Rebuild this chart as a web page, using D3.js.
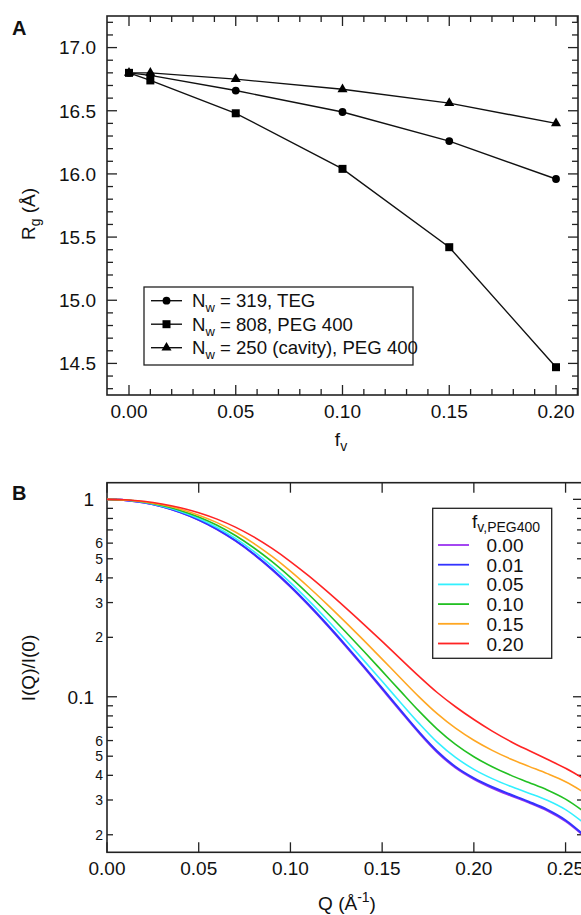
<!DOCTYPE html>
<html>
<head>
<meta charset="utf-8">
<script src="https://cdn.jsdelivr.net/npm/d3@7"></script>
<style>
  html, body { margin: 0; padding: 0; background: #fff; }
  svg { display: block; }
  text { font-family: "Liberation Sans", Arial, Helvetica, sans-serif; fill: #111; }
</style>
</head>
<body>
<svg id="chart" width="581" height="915"></svg>
<script>
// ---------- Panel A data ----------
const fvA = [0.00, 0.01, 0.05, 0.10, 0.15, 0.20];
const rgTEG = [16.80, 16.78, 16.66, 16.49, 16.26, 15.96];
const rgPEG = [16.80, 16.74, 16.48, 16.04, 15.42, 14.47];
const rgCavity = [16.80, 16.80, 16.75, 16.67, 16.56, 16.40];
const legendA = ["319, TEG", "808, PEG 400", "250 (cavity), PEG 400"];
const xTicksA = [0.00, 0.05, 0.10, 0.15, 0.20];
const yTicksA = [14.5, 15.0, 15.5, 16.0, 16.5, 17.0];

// ---------- Panel B data ----------
const qB = [0.00, 0.01, 0.02, 0.03, 0.04, 0.05, 0.06, 0.07, 0.08, 0.09, 0.10, 0.11, 0.12, 0.13,
            0.14, 0.15, 0.16, 0.17, 0.18, 0.19, 0.20, 0.21, 0.22, 0.23, 0.24, 0.25, 0.26];
const I000 = [1, 0.9907, 0.9634, 0.9190, 0.8593, 0.7868, 0.7048, 0.6166, 0.5270, 0.4404, 0.3608, 0.2905, 0.2308, 0.1813,
              0.1413, 0.1094, 0.0846, 0.0658, 0.0524, 0.0437, 0.0383, 0.0345, 0.0316, 0.0291, 0.0265, 0.0234, 0.0197];
const I001 = [1, 0.9907, 0.9634, 0.9195, 0.8603, 0.7882, 0.7064, 0.6184, 0.5289, 0.4425, 0.3629, 0.2924, 0.2324, 0.1828,
              0.1426, 0.1105, 0.0855, 0.0665, 0.0530, 0.0442, 0.0387, 0.0349, 0.0320, 0.0294, 0.0268, 0.0237, 0.0199];
const I005 = [1, 0.9913, 0.9656, 0.9238, 0.8684, 0.7993, 0.7197, 0.6338, 0.5452, 0.4588, 0.3785, 0.3068, 0.2455, 0.1944,
              0.1529, 0.1197, 0.0936, 0.0735, 0.0589, 0.0493, 0.0429, 0.0385, 0.0352, 0.0325, 0.0299, 0.0268, 0.0229];
const I010 = [1, 0.9919, 0.9690, 0.9302, 0.8786, 0.8134, 0.7384, 0.6556, 0.5685, 0.4829, 0.4021, 0.3294, 0.2664, 0.2134,
              0.1700, 0.1348, 0.1068, 0.0848, 0.0686, 0.0574, 0.0497, 0.0442, 0.0401, 0.0368, 0.0337, 0.0303, 0.0262];
const I015 = [1, 0.9930, 0.9724, 0.9379, 0.8910, 0.8317, 0.7620, 0.6829, 0.5986, 0.5138, 0.4328, 0.3587, 0.2938, 0.2387,
              0.1929, 0.1551, 0.1245, 0.1002, 0.0821, 0.0693, 0.0602, 0.0535, 0.0484, 0.0444, 0.0408, 0.0371, 0.0328];
const I020 = [1, 0.9942, 0.9770, 0.9478, 0.9067, 0.8553, 0.7938, 0.7230, 0.6450, 0.5639, 0.4841, 0.4092, 0.3415, 0.2827,
              0.2327, 0.1906, 0.1556, 0.1272, 0.1051, 0.0890, 0.0767, 0.0670, 0.0594, 0.0534, 0.0482, 0.0434, 0.0384];
const fvLabelsB = ["0.00", "0.01", "0.05", "0.10", "0.15", "0.20"];
const colorsB = ["#9a33f0", "#3333ff", "#33f0ff", "#22c022", "#ffa722", "#ff2424"];
const xTicksB = [0.00, 0.05, 0.10, 0.15, 0.20, 0.25];
const yMajorB = [1, 0.1];
const yMinorLabelsB = [0.6, 0.5, 0.4, 0.3, 0.2, 0.06, 0.05, 0.04, 0.03, 0.02];

const svg = d3.select("#chart");
const FONT = 19;

// =============== PANEL A ===============
const A = { l: 107, r: 578, t: 16, b: 395 };
const xA = d3.scaleLinear().domain([-0.0103, 0.2103]).range([A.l, A.r]);
const yA = d3.scaleLinear().domain([14.25, 17.25]).range([A.b, A.t]);
const gA = svg.append("g");

const xMinorA = d3.range(0, 0.2101, 0.01);
xMinorA.forEach(v => {
  const major = xTicksA.some(t => Math.abs(t - v) < 1e-6);
  const len = major ? 10 : 6;
  const x = xA(v);
  gA.append("line").attr("x1", x).attr("x2", x).attr("y1", A.b).attr("y2", A.b - len).attr("stroke", "#222").attr("stroke-width", 1.3);
  gA.append("line").attr("x1", x).attr("x2", x).attr("y1", A.t).attr("y2", A.t + len).attr("stroke", "#222").attr("stroke-width", 1.3);
});
const yMinorA = d3.range(14.3, 17.21, 0.1);
yMinorA.forEach(v => {
  const major = yTicksA.some(t => Math.abs(t - v) < 1e-6);
  const len = major ? 10 : 6;
  const y = yA(v);
  gA.append("line").attr("x1", A.l).attr("x2", A.l + len).attr("y1", y).attr("y2", y).attr("stroke", "#222").attr("stroke-width", 1.3);
  gA.append("line").attr("x1", A.r).attr("x2", A.r - len).attr("y1", y).attr("y2", y).attr("stroke", "#222").attr("stroke-width", 1.3);
});
gA.append("rect").attr("x", A.l).attr("y", A.t).attr("width", A.r - A.l).attr("height", A.b - A.t)
  .attr("fill", "none").attr("stroke", "#222").attr("stroke-width", 1.6);

xTicksA.forEach(v => {
  gA.append("text").attr("x", xA(v)).attr("y", 418).attr("text-anchor", "middle")
    .attr("font-size", FONT).text(d3.format(".2f")(v));
});
yTicksA.forEach(v => {
  gA.append("text").attr("x", 96).attr("y", yA(v)).attr("dy", "0.36em").attr("text-anchor", "end")
    .attr("font-size", FONT).text(d3.format(".1f")(v));
});

const seriesA = [
  { vals: rgTEG, shape: d3.symbolCircle, size: 48 },
  { vals: rgPEG, shape: d3.symbolSquare, size: 64 },
  { vals: rgCavity, shape: d3.symbolTriangle, size: 44 }
];
const lineA = d3.line().x(d => xA(d[0])).y(d => yA(d[1]));
seriesA.forEach(s => {
  const pts = fvA.map((f, i) => [f, s.vals[i]]);
  gA.append("path").attr("d", lineA(pts)).attr("fill", "none").attr("stroke", "#111").attr("stroke-width", 1.4);
  pts.forEach(p => {
    gA.append("path").attr("d", d3.symbol().type(s.shape).size(s.size)())
      .attr("transform", `translate(${xA(p[0])},${yA(p[1])})`).attr("fill", "#000");
  });
});

const LA = { x: 144, y: 287, w: 269, h: 78 };
gA.append("rect").attr("x", LA.x).attr("y", LA.y).attr("width", LA.w).attr("height", LA.h)
  .attr("fill", "#fff").attr("stroke", "#222").attr("stroke-width", 1.3);
legendA.forEach((lab, i) => {
  const cy = 300.7 + i * 23.5;
  gA.append("line").attr("x1", 151).attr("x2", 182).attr("y1", cy).attr("y2", cy).attr("stroke", "#111").attr("stroke-width", 1.4);
  gA.append("path").attr("d", d3.symbol().type(seriesA[i].shape).size(seriesA[i].size)())
    .attr("transform", `translate(166.5,${cy})`).attr("fill", "#000");
  const t = gA.append("text").attr("x", 192).attr("y", cy + 6.5).attr("font-size", 18.6);
  t.append("tspan").text("N");
  t.append("tspan").attr("font-size", 13).attr("dy", 5).text("w");
  t.append("tspan").attr("dy", -5).text(" = " + lab);
});

const yLabA = gA.append("text").attr("transform", "translate(35,214) rotate(-90)").attr("text-anchor", "middle").attr("font-size", FONT);
yLabA.append("tspan").text("R");
yLabA.append("tspan").attr("font-size", 14).attr("dy", 5).text("g");
yLabA.append("tspan").attr("dy", -5).text(" (Å)");
const xLabA = gA.append("text").attr("x", 341).attr("y", 446).attr("text-anchor", "middle").attr("font-size", FONT);
xLabA.append("tspan").text("f");
xLabA.append("tspan").attr("font-size", 14).attr("dy", 5).text("v");
gA.append("text").attr("x", 12).attr("y", 35).attr("font-size", 20).attr("font-weight", "bold").text("A");

// =============== PANEL B ===============
const B = { l: 107, r: 583, t: 482.7, b: 852.3 };
const xB = d3.scaleLinear().domain([0, 0.2595]).range([B.l, B.r]);
const yB = d3.scaleLog().domain([0.0163, 1.214]).range([B.b, B.t]);
const gB = svg.append("g");

svg.append("defs").append("clipPath").attr("id", "clipB")
  .append("rect").attr("x", B.l).attr("y", B.t).attr("width", B.r - B.l).attr("height", B.b - B.t);

xTicksB.forEach(v => {
  const x = xB(v);
  gB.append("line").attr("x1", x).attr("x2", x).attr("y1", B.b).attr("y2", B.b - 10).attr("stroke", "#222").attr("stroke-width", 1.3);
  gB.append("line").attr("x1", x).attr("x2", x).attr("y1", B.t).attr("y2", B.t + 10).attr("stroke", "#222").attr("stroke-width", 1.3);
  gB.append("text").attr("x", x).attr("y", 875).attr("text-anchor", "middle").attr("font-size", FONT).text(d3.format(".2f")(v));
});
const yAllB = [];
[0.01, 0.1, 1].forEach(dec => { for (let k = 1; k <= 9; k++) yAllB.push(dec * k); });
yAllB.filter(v => v >= 0.0163 && v <= 1.214).forEach(v => {
  const major = yMajorB.some(t => Math.abs(t - v) < 1e-9);
  const len = major ? 10 : 6;
  const y = yB(v);
  gB.append("line").attr("x1", B.l).attr("x2", B.l + len).attr("y1", y).attr("y2", y).attr("stroke", "#222").attr("stroke-width", 1.3);
  gB.append("line").attr("x1", B.r).attr("x2", B.r - len).attr("y1", y).attr("y2", y).attr("stroke", "#222").attr("stroke-width", 1.3);
});
yMajorB.forEach(v => {
  gB.append("text").attr("x", 94).attr("y", yB(v)).attr("dy", "0.36em").attr("text-anchor", "end")
    .attr("font-size", FONT).text(v === 1 ? "1" : "0.1");
});
yMinorLabelsB.forEach(v => {
  const digit = Math.round(v / Math.pow(10, Math.floor(Math.log10(v) + 1e-9)));
  gB.append("text").attr("x", 103).attr("y", yB(v)).attr("dy", "0.36em").attr("text-anchor", "end")
    .attr("font-size", 14).text(digit);
});
gB.append("rect").attr("x", B.l).attr("y", B.t).attr("width", B.r - B.l).attr("height", B.b - B.t)
  .attr("fill", "none").attr("stroke", "#222").attr("stroke-width", 1.6);

const seriesB = [I000, I001, I005, I010, I015, I020];
const lineB = d3.line().x(d => xB(d[0])).y(d => yB(d[1])).curve(d3.curveCatmullRom.alpha(0.5));
const curvesG = gB.append("g").attr("clip-path", "url(#clipB)");
seriesB.forEach((vals, i) => {
  const pts = qB.map((q, j) => [q, vals[j]]);
  curvesG.append("path").attr("d", lineB(pts)).attr("fill", "none")
    .attr("stroke", colorsB[i]).attr("stroke-width", i <= 1 ? 2 : 1.6);
});

const LB = { x: 432.7, y: 508.3, w: 119, h: 150 };
gB.append("rect").attr("x", LB.x).attr("y", LB.y).attr("width", LB.w).attr("height", LB.h)
  .attr("fill", "#fff").attr("stroke", "#222").attr("stroke-width", 1.3);
const tB = gB.append("text").attr("x", 472).attr("y", 527.5).attr("font-size", FONT);
tB.append("tspan").text("f");
tB.append("tspan").attr("font-size", 14).attr("dy", 4.5).text("v,PEG400");
fvLabelsB.forEach((lab, i) => {
  const cy = 545 + i * 19.7;
  gB.append("line").attr("x1", 438).attr("x2", 469).attr("y1", cy).attr("y2", cy)
    .attr("stroke", colorsB[i]).attr("stroke-width", 1.8);
  gB.append("text").attr("x", 486.5).attr("y", cy + 7).attr("font-size", FONT).text(lab);
});

gB.append("text").attr("transform", "translate(35,668) rotate(-90)").attr("text-anchor", "middle")
  .attr("font-size", FONT).text("I(Q)/I(0)");
const xLabB = gB.append("text").attr("x", 347).attr("y", 910).attr("text-anchor", "middle").attr("font-size", FONT);
xLabB.append("tspan").text("Q (Å");
xLabB.append("tspan").attr("font-size", 14).attr("dy", -8).text("-1");
xLabB.append("tspan").attr("dy", 8).text(")");
gB.append("text").attr("x", 12).attr("y", 500).attr("font-size", 20).attr("font-weight", "bold").text("B");
</script>
</body>
</html>
